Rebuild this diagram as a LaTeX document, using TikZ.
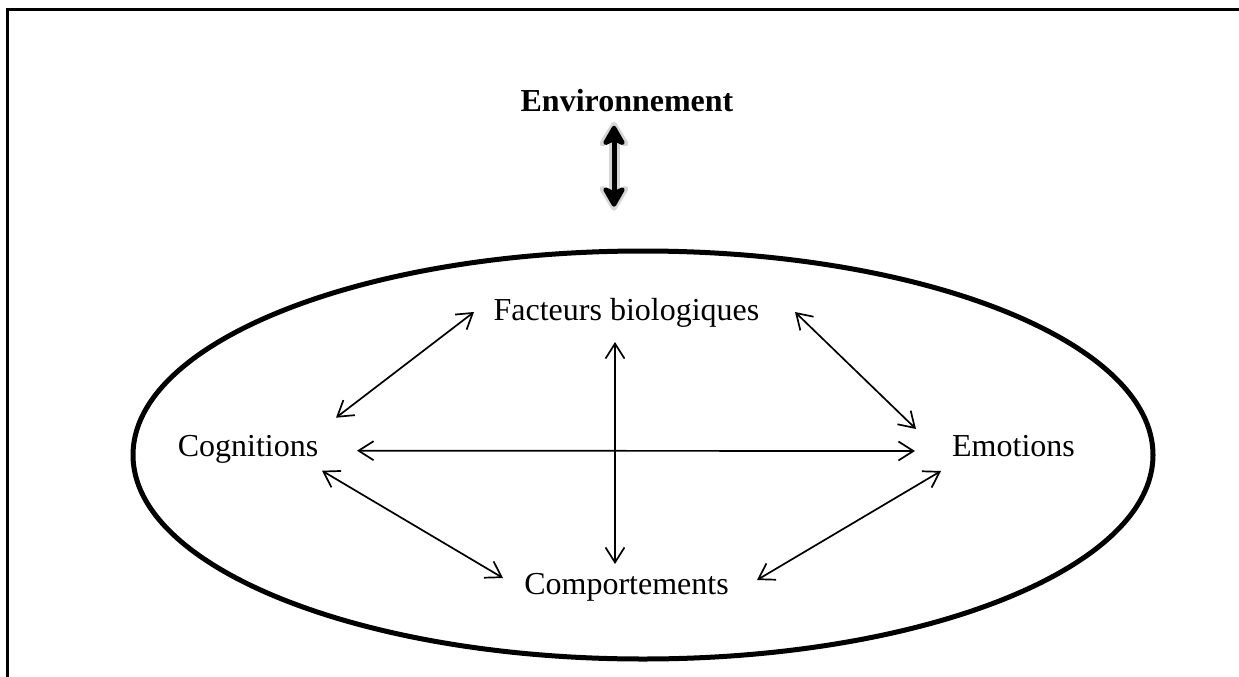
\documentclass[tikz,border=0pt]{standalone}
\usepackage{fontspec}
\setmainfont{Liberation Serif}
\usetikzlibrary{arrows.meta}
\begin{document}
\begin{tikzpicture}[x=1pt,y=-1pt,
  lbl/.style={inner sep=0pt,anchor=base,font=\fontsize{32}{38}\selectfont},
  thinarrow/.style={line width=1.7pt,{Straight Barb[length=15pt,width=19pt]}-{Straight Barb[length=15pt,width=19pt]}},
  bigarrow/.style={line width=5pt,{Stealth[length=24pt,width=27pt,inset=6pt,round]}-{Stealth[length=24pt,width=27pt,inset=6pt,round]}},
  glow/.style={line width=11pt,draw=black!16,fill=black!16,{Stealth[length=30pt,width=36pt,inset=7pt,round]}-{Stealth[length=30pt,width=36pt,inset=7pt,round]}},
  frameline/.style={line width=3pt},
  oval/.style={line width=5pt}]
\useasboundingbox (0,0) rectangle (1239,677);
% frame
\draw[frameline] (7,677) -- (7,10) -- (1240,10);
% ellipse
\draw[oval] (643,455) ellipse [x radius=510, y radius=204];
% labels
\node[lbl,font=\fontsize{32}{38}\selectfont\bfseries] (env) at (627,111.7) {Environnement};
\node[lbl] (fac) at (626.5,320) {Facteurs biologiques};
\node[lbl] (cog) at (248,456.7) {Cognitions};
\node[lbl] (emo) at (1013.5,456) {Emotions};
\node[lbl] (comp) at (626.5,594) {Comportements};
% thick arrow to environment
\coordinate (envtop) at ([shift={(-13,14)}]env.base);
\coordinate (envbot) at ([shift={(-13,95)}]env.base);
\draw[glow] ([yshift=4pt]envtop) -- ([yshift=-4pt]envbot);
\draw[bigarrow] (envtop) -- (envbot);
% thin arrows
\draw[thinarrow] ([shift={(88,-39)}]cog.base) -- ([shift={(-152.5,-8)}]fac.base);
\draw[thinarrow] ([shift={(109,-6)}]cog.base) -- ([shift={(-98.5,-5)}]emo.base);
\draw[thinarrow] ([shift={(-11.5,22)}]fac.base) -- ([shift={(-11.5,-30)}]comp.base);
\draw[thinarrow] ([shift={(74,14)}]cog.base) -- ([shift={(-123.5,-16)}]comp.base);
\draw[thinarrow] ([shift={(168.5,-8)}]fac.base) -- ([shift={(-97.5,-27)}]emo.base);
\draw[thinarrow] ([shift={(-72.5,15)}]emo.base) -- ([shift={(130.5,-14)}]comp.base);
\end{tikzpicture}
\end{document}
